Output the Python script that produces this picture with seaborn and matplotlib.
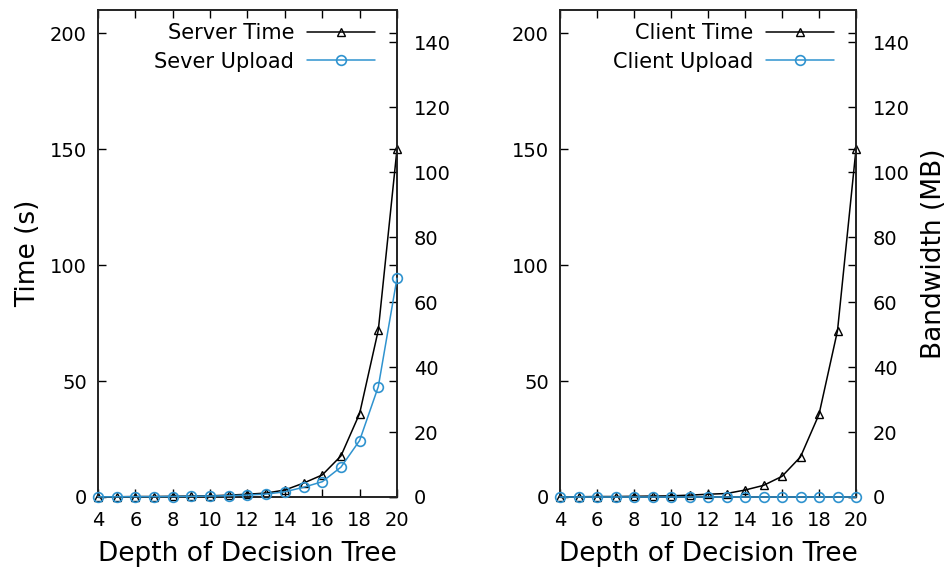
import numpy as np
import pandas as pd
import matplotlib
matplotlib.use("Agg")
import matplotlib.pyplot as plt
import seaborn as sns

# ---- data ----
depth = [4, 5, 6, 7, 8, 9, 10, 11, 12, 13, 14, 15, 16, 17, 18, 19, 20]
server_time = [0.1, 0.1, 0.2, 0.2, 0.3, 0.4, 0.5, 0.8, 1.2, 1.7, 3.0, 6.0, 9.5, 17.7, 36.0, 72.0, 150.0]
server_upload = [0.05, 0.05, 0.1, 0.1, 0.15, 0.2, 0.3, 0.4, 0.6, 0.9, 1.6, 3.0, 4.7, 9.2, 17.4, 34.0, 67.4]
client_time = [0.1, 0.1, 0.2, 0.2, 0.3, 0.4, 0.5, 0.8, 1.2, 1.5, 3.0, 5.0, 8.9, 17.3, 35.6, 71.7, 150.0]
client_upload = [0.01, 0.01, 0.01, 0.01, 0.01, 0.01, 0.01, 0.01, 0.01, 0.01, 0.01, 0.01, 0.01, 0.01, 0.01, 0.01, 0.01]

xticks = [4, 6, 8, 10, 12, 14, 16, 18, 20]
time_ticks = [0, 50, 100, 150, 200]
bw_ticks = [0, 20, 40, 60, 80, 100, 120, 140]

sns.set_style("ticks")
plt.rcParams['font.family'] = ['DejaVu Sans']
plt.rcParams['text.color'] = 'black'
plt.rcParams['axes.labelcolor'] = 'black'

BLACK = "#000000"
BLUE = "#2f93cf"

W, H = 952, 578
fig = plt.figure(figsize=(W / 100, H / 100), dpi=100)

panels = [
    (98, 397, server_time, server_upload, "Server Time", "Sever Upload", True, False),
    (560, 856, client_time, client_upload, "Client Time", "Client Upload", False, True),
]
top_px, bot_px = 10, 497

for (x0, x1, tvals, uvals, tlab, ulab, show_ylabel, show_y2label) in panels:
    ax = fig.add_axes([x0 / W, 1 - bot_px / H, (x1 - x0) / W, (bot_px - top_px) / H])
    axr = ax.twinx()
    sns.lineplot(x=depth, y=tvals, ax=ax, color=BLACK, marker="^", markersize=6,
                 markerfacecolor="none", markeredgecolor=BLACK, markeredgewidth=1.0,
                 linewidth=1.1, label=tlab, legend=False, clip_on=False, zorder=5)
    sns.lineplot(x=depth, y=uvals, ax=axr, color=BLUE, marker="o", markersize=7,
                 markerfacecolor="none", markeredgecolor=BLUE, markeredgewidth=1.2,
                 linewidth=1.1, label=ulab, legend=False, clip_on=False, zorder=5)
    ax.set_xlim(4, 20)
    ax.set_ylim(0, 210)
    axr.set_ylim(0, 150)
    ax.set_xticks(xticks)
    ax.set_yticks(time_ticks)
    axr.set_yticks(bw_ticks)
    ax.tick_params(axis="x", direction="in", length=6, width=1.0, labelsize=14,
                   top=True, pad=10, colors=BLACK)
    ax.tick_params(axis="y", direction="in", length=6, width=1.0, labelsize=14,
                   right=True, labelright=False, pad=8, colors=BLACK)
    axr.tick_params(axis="y", direction="in", length=6, width=1.0, labelsize=14,
                    right=True, left=False, pad=12, colors=BLACK)
    for a in (ax, axr):
        for s in a.spines.values():
            s.set_linewidth(1.2)
            s.set_color("#222222")
    ax.set_xlabel("Depth of Decision Tree", fontsize=19, labelpad=8)
    if show_ylabel:
        ax.set_ylabel("Time (s)", fontsize=19, labelpad=6)
    else:
        ax.set_ylabel("")
    if show_y2label:
        axr.set_ylabel("Bandwidth (MB)", fontsize=19, labelpad=8)
    else:
        axr.set_ylabel("")
    h1, l1 = ax.get_legend_handles_labels()
    h2, l2 = axr.get_legend_handles_labels()
    axr.legend(h1 + h2, l1 + l2, loc="upper right", bbox_to_anchor=(0.99, 1.012),
               frameon=False, markerfirst=False, handlelength=3.3, fontsize=15,
               labelspacing=0.42, handletextpad=0.6, borderpad=0.4)

fig.savefig("out.png", dpi=100)
